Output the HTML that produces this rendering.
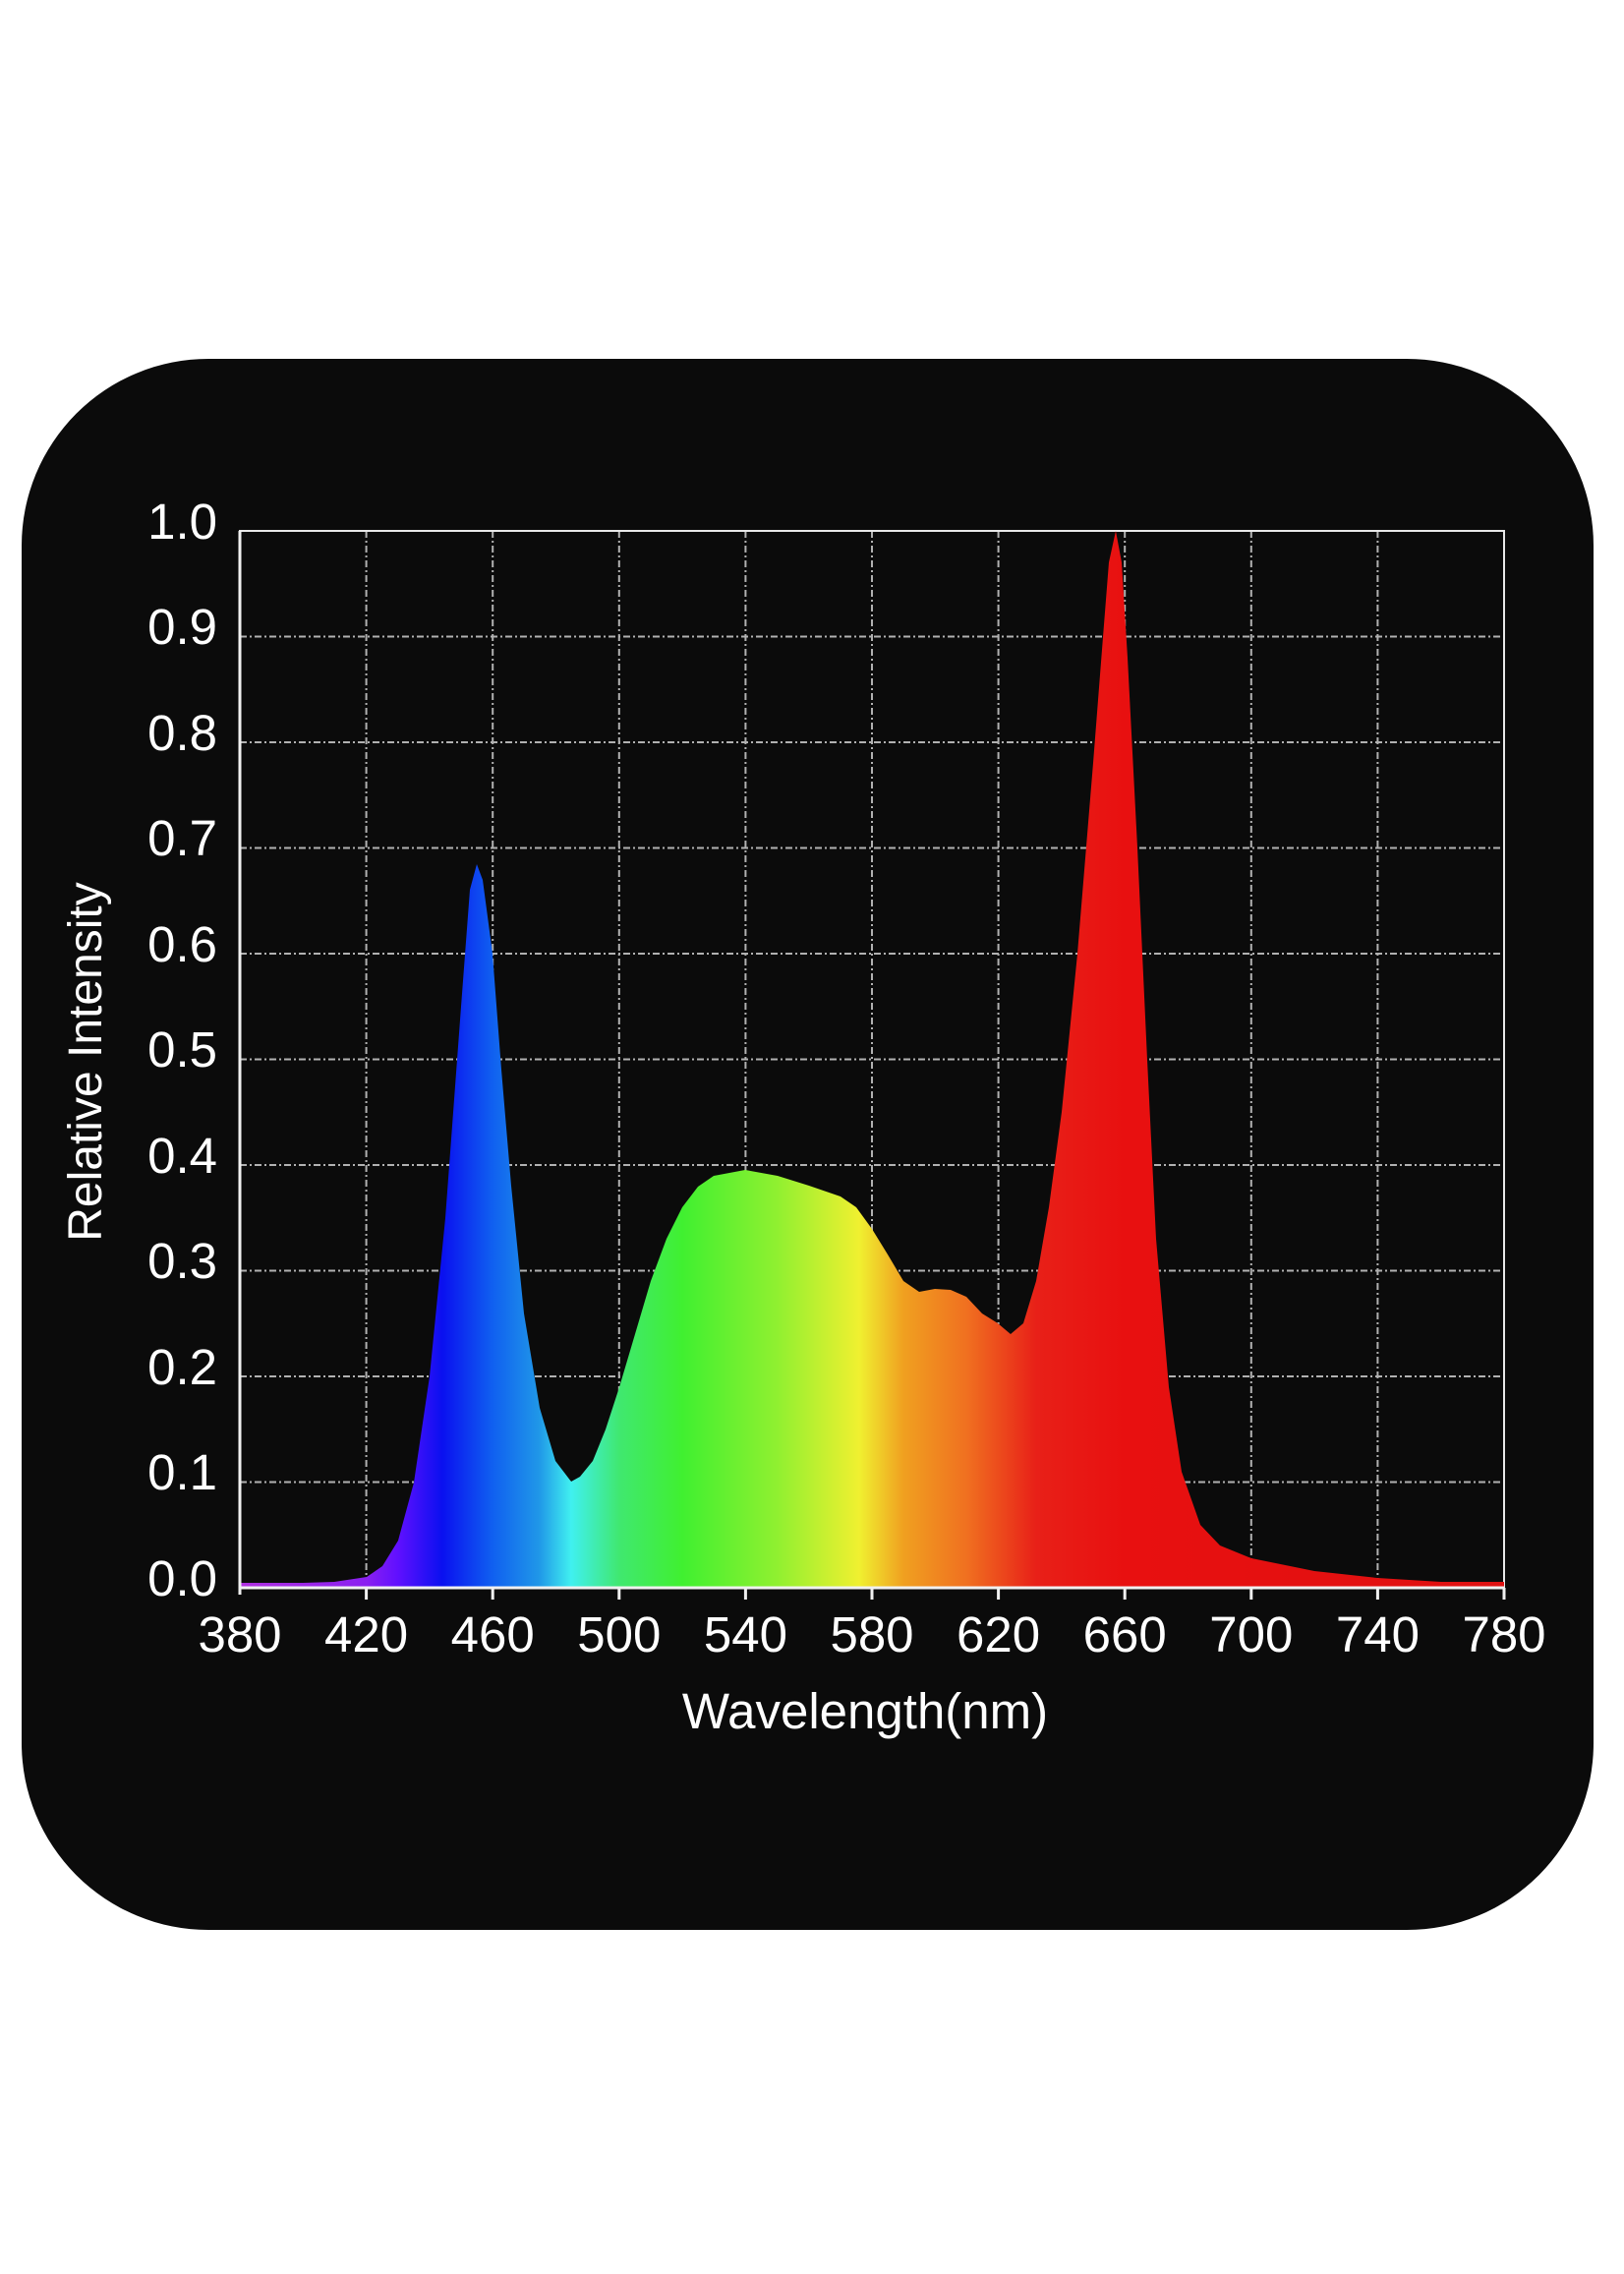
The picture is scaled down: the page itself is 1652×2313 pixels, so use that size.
<!DOCTYPE html>
<html><head><meta charset="utf-8"><style>
html,body{margin:0;padding:0;background:#fff;}
svg{display:block;}
text{font-family:"Liberation Sans",sans-serif;fill:#fff;}
</style></head><body>
<svg width="1652" height="2313" viewBox="0 0 1652 2313" xmlns="http://www.w3.org/2000/svg">
<defs>
<linearGradient id="sp" gradientUnits="userSpaceOnUse" x1="244" y1="0" x2="1530" y2="0">
<stop offset="0" stop-color="#b030e0"/>
<stop offset="0.1" stop-color="#8a20f0"/>
<stop offset="0.125" stop-color="#6010ff"/>
<stop offset="0.16" stop-color="#0a10f0"/>
<stop offset="0.2" stop-color="#1060f0"/>
<stop offset="0.237" stop-color="#2098e8"/>
<stop offset="0.262" stop-color="#40f0f0"/>
<stop offset="0.3" stop-color="#40e870"/>
<stop offset="0.35" stop-color="#40f030"/>
<stop offset="0.425" stop-color="#90f030"/>
<stop offset="0.49" stop-color="#f0f030"/>
<stop offset="0.525" stop-color="#f0a020"/>
<stop offset="0.575" stop-color="#f07020"/>
<stop offset="0.63" stop-color="#e82018"/>
<stop offset="0.7" stop-color="#e81010"/>
<stop offset="1" stop-color="#e01010"/>
</linearGradient>
</defs>
<rect x="22" y="365" width="1599" height="1598" rx="190" ry="190" fill="#0b0b0b"/>
<g stroke="#cfcfcf" stroke-width="2" stroke-dasharray="7,3,2,3" opacity="0.85">
<line x1="372.6" y1="540" x2="372.6" y2="1615"/>
<line x1="501.2" y1="540" x2="501.2" y2="1615"/>
<line x1="629.8" y1="540" x2="629.8" y2="1615"/>
<line x1="758.4" y1="540" x2="758.4" y2="1615"/>
<line x1="887" y1="540" x2="887" y2="1615"/>
<line x1="1015.6" y1="540" x2="1015.6" y2="1615"/>
<line x1="1144.2" y1="540" x2="1144.2" y2="1615"/>
<line x1="1272.8" y1="540" x2="1272.8" y2="1615"/>
<line x1="1401.4" y1="540" x2="1401.4" y2="1615"/>
<line x1="244" y1="647.5" x2="1530" y2="647.5"/>
<line x1="244" y1="755" x2="1530" y2="755"/>
<line x1="244" y1="862.5" x2="1530" y2="862.5"/>
<line x1="244" y1="970" x2="1530" y2="970"/>
<line x1="244" y1="1077.5" x2="1530" y2="1077.5"/>
<line x1="244" y1="1185" x2="1530" y2="1185"/>
<line x1="244" y1="1292.5" x2="1530" y2="1292.5"/>
<line x1="244" y1="1400" x2="1530" y2="1400"/>
<line x1="244" y1="1507.5" x2="1530" y2="1507.5"/>
</g>
<rect x="244" y="540" width="1286" height="1075" fill="none" stroke="#e8e8e8" stroke-width="2"/>
<path fill="url(#sp)" d="M244,1610 L308,1610 L340,1609 L373,1604 L389,1593 L405,1567 L421,1508 L437,1400 L453,1239 L469,1024 L478,905 L485,879 L491,895 L501,970 L510,1088 L520,1206 L533,1336 L549,1432 L565,1486 L581,1507 L590,1502 L603,1486 L616,1454 L630,1411 L646,1357 L662,1303 L678,1260 L694,1228 L710,1207 L726,1196 L758,1190 L791,1196 L823,1206 L855,1217 L871,1228 L887,1250 L903,1276 L919,1303 L935,1314 L951,1311 L967,1312 L983,1319 L999,1336 L1015,1346 L1028,1357 L1041,1346 L1054,1303 L1067,1228 L1080,1131 L1096,970 L1112,776 L1122,648 L1128,572 L1135,540 L1141,572 L1147,669 L1157,862 L1167,1078 L1176,1260 L1189,1411 L1202,1497 L1221,1551 L1241,1572 L1273,1585 L1337,1598 L1401,1605 L1466,1609 L1530,1609 L1530,1615 L244,1615 Z"/>
<line x1="244" y1="540" x2="244" y2="1622" stroke="#f0f0f0" stroke-width="3"/>
<line x1="244" y1="1615" x2="1530" y2="1615" stroke="#f0f0f0" stroke-width="3"/>
<g stroke="#f0f0f0" stroke-width="3">
<line x1="372.6" y1="1615" x2="372.6" y2="1627"/><line x1="501.2" y1="1615" x2="501.2" y2="1627"/><line x1="629.8" y1="1615" x2="629.8" y2="1627"/><line x1="758.4" y1="1615" x2="758.4" y2="1627"/><line x1="887" y1="1615" x2="887" y2="1627"/><line x1="1015.6" y1="1615" x2="1015.6" y2="1627"/><line x1="1144.2" y1="1615" x2="1144.2" y2="1627"/><line x1="1272.8" y1="1615" x2="1272.8" y2="1627"/><line x1="1401.4" y1="1615" x2="1401.4" y2="1627"/><line x1="1530" y1="1615" x2="1530" y2="1627"/>
</g>
<g font-size="51" text-anchor="end">
<text x="221" y="548">1.0</text>
<text x="221" y="655">0.9</text>
<text x="221" y="763">0.8</text>
<text x="221" y="870">0.7</text>
<text x="221" y="978">0.6</text>
<text x="221" y="1085">0.5</text>
<text x="221" y="1193">0.4</text>
<text x="221" y="1300">0.3</text>
<text x="221" y="1408">0.2</text>
<text x="221" y="1515">0.1</text>
<text x="221" y="1623">0.0</text>
</g>
<g font-size="51" text-anchor="middle">
<text x="244" y="1680">380</text>
<text x="372.6" y="1680">420</text>
<text x="501.2" y="1680">460</text>
<text x="629.8" y="1680">500</text>
<text x="758.4" y="1680">540</text>
<text x="887" y="1680">580</text>
<text x="1015.6" y="1680">620</text>
<text x="1144.2" y="1680">660</text>
<text x="1272.8" y="1680">700</text>
<text x="1401.4" y="1680">740</text>
<text x="1530" y="1680">780</text>
<text x="880" y="1758">Wavelength(nm)</text>
<text x="0" y="0" font-size="48" transform="translate(103,1080) rotate(-90)">Relative Intensity</text>
</g>
</svg>
</body></html>
